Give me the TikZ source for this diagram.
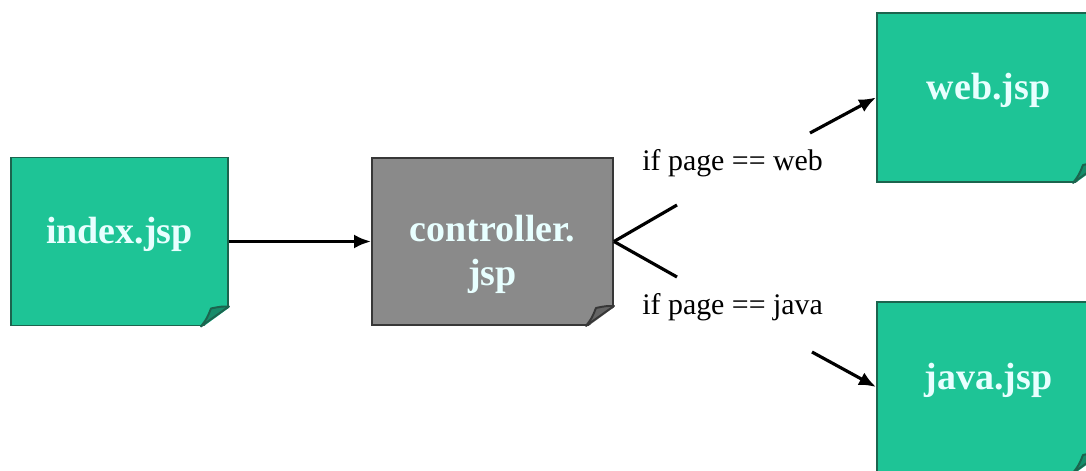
\documentclass[tikz,border=0pt]{standalone}
\usepackage{fontspec}
\setmainfont{Liberation Serif}
\usetikzlibrary{arrows.meta}

\definecolor{verdejsp}{RGB}{30,196,150}
\definecolor{bordaverde}{RGB}{28,100,78}
\definecolor{dobraverde}{RGB}{22,140,106}
\definecolor{cinzajsp}{RGB}{138,138,138}
\definecolor{bordacinza}{RGB}{55,55,55}
\definecolor{dobracinza}{RGB}{100,100,100}
\definecolor{textoclaro}{RGB}{232,255,255}

\tikzset{
  pagina/.style={draw=bordaverde, fill=verdejsp, line width=1.1pt,
    text=textoclaro, align=center, text height=5.3mm, text depth=4.5mm,
    font=\fontsize{21.6}{24.5}\selectfont\bfseries},
  controle/.style={pagina, draw=bordacinza, fill=cinzajsp,
    text height=17.4mm, text depth=0mm},
  seta/.style={line width=1.8pt, -{Latex[length=3.4mm,width=2.8mm]}},
  ramo/.style={line width=1.8pt},
  condicao/.style={anchor=west, inner sep=0pt, font=\fontsize{17}{20}\selectfont}
}

\begin{document}
\begin{tikzpicture}[x=0.2mm, y=-0.2mm]

    % área da figura (em pixels da referência)
    \useasboundingbox (0,0) rectangle (1086,471);

    % páginas
    \node[pagina, minimum width=43.4mm, minimum height=33.6mm] (index) at (119.5,241.5) {index.jsp};
    \node[controle, minimum width=48.2mm, minimum height=33.4mm] (controller) at (492.5,241.5) {controller.\\jsp};
    \node[pagina, minimum width=44.6mm, minimum height=33.8mm] (web) at (988.5,97.5) {web.jsp};
    \node[pagina, minimum width=44.6mm, minimum height=34mm] (java) at (988.5,387) {java.jsp};

    % cantos dobrados
    \foreach \n/\c/\b in {index/dobraverde/bordaverde, web/dobraverde/bordaverde,
                          java/dobraverde/bordaverde, controller/dobracinza/bordacinza} {
      \begin{scope}[shift={(\n.south east)}]
        \fill[white] (-28,2) -- (2,2) -- (2,-20) -- cycle;
        \filldraw[fill=\c, draw=\b, line width=1.1pt, line join=round]
          (-28,0) .. controls (-22,-8) .. (-18,-18) .. controls (-8,-20) .. (0,-20) -- cycle;
      \end{scope}
    }

    % pontos livres das setas
    \coordinate (ramoweb) at (677,205);
    \coordinate (ramojava) at (677,277);
    \coordinate (saidaweb) at (810,133);
    \coordinate (saidajava) at (812,352);

    % ligações
    \draw[seta] (index.east) -- (controller.west);
    \draw[ramo] (controller.east) -- (ramoweb);
    \draw[ramo] (controller.east) -- (ramojava);
    \draw[seta] (saidaweb) -- (web.west);
    \draw[seta] (saidajava) -- (java.west);

    % condições
    \node[condicao] (condweb) at (642,163) {if page == web};
    \node[condicao] (condjava) at (642,307) {if page == java};

\end{tikzpicture}
\end{document}
